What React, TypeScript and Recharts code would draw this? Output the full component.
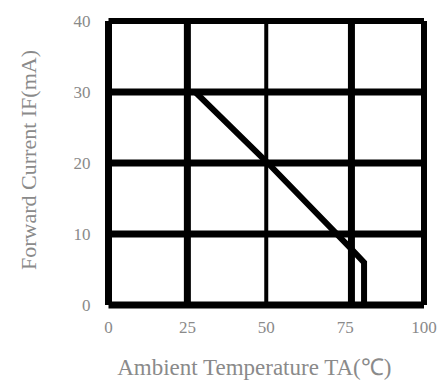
import React from 'react'
import {
  LineChart,
  Line,
  XAxis,
  YAxis,
  ReferenceLine,
} from 'recharts'

// derating curve
const tempC = [0, 27.5, 50.5, 76.7, 81, 81]
const currentMA = [30, 30, 20, 8, 6, 0]

const xTicks = [0, 25, 50, 75, 100]
const yTicks = [0, 10, 20, 30, 40]

// inner grid lines, (value, stroke width)
const vGrid = [25, 50, 77]
const vGridWidth = [7, 4, 7]
const hGrid = [10, 20, 30]
const hGridWidth = [7, 7, 7]

const FONT = '"Liberation Serif", "Times New Roman", serif'
const GREY = '#8a8a8a'

const data = tempC.map((t, i) => ({ t, i: currentMA[i] }))

const App: React.FC = () => {
  return (
    <div style={{ position: 'absolute', left: 0, top: 0, background: '#fff' }}>
      <LineChart
        width={443}
        height={383}
        data={data}
        margin={{ top: 21, right: 19, bottom: 0, left: 0 }}
      >
        <XAxis
          dataKey="t"
          type="number"
          domain={[0, 100]}
          ticks={xTicks}
          axisLine={false}
          tickLine={false}
          tickSize={0}
          tickMargin={16}
          height={78}
          tick={{ fontSize: 17, fontFamily: FONT, fill: GREY }}
          label={{
            content: ({ viewBox }: any) => (
              <text
                x={viewBox.x - 12 + viewBox.width / 2}
                y={viewBox.y + 70}
                textAnchor="middle"
                fontSize={23}
                fontFamily={FONT}
                fill={GREY}
              >
                Ambient Temperature TA(℃)
              </text>
            ),
          }}
        />
        <YAxis
          type="number"
          domain={[0, 40]}
          ticks={yTicks}
          axisLine={false}
          tickLine={false}
          tickSize={0}
          tickMargin={18}
          width={108.5}
          tick={{ fontSize: 17, fontFamily: FONT, fill: GREY }}
          label={{
            content: ({ viewBox }: any) => {
              const cx = viewBox.x + 28
              const cy = viewBox.y + viewBox.height / 2 - 3
              return (
                <text
                  x={cx}
                  y={cy}
                  transform={`rotate(-90, ${cx}, ${cy})`}
                  textAnchor="middle"
                  dominantBaseline="central"
                  fontSize={22}
                  fontFamily={FONT}
                  fill={GREY}
                >
                  Forward Current IF(mA)
                </text>
              )
            },
          }}
        />

        {vGrid.map((v, k) => (
          <ReferenceLine key={'v' + v} x={v} stroke="#000" strokeWidth={vGridWidth[k]} />
        ))}
        {hGrid.map((v, k) => (
          <ReferenceLine key={'h' + v} y={v} stroke="#000" strokeWidth={hGridWidth[k]} />
        ))}

        {/* frame */}
        <ReferenceLine x={0} stroke="#000" strokeWidth={7} />
        <ReferenceLine x={100} stroke="#000" strokeWidth={6} />
        <ReferenceLine y={0} stroke="#000" strokeWidth={7} />
        <ReferenceLine y={40} stroke="#000" strokeWidth={6} />

        <Line
          dataKey="i"
          stroke="#000"
          strokeWidth={6}
          strokeLinejoin="miter"
          dot={false}
          isAnimationActive={false}
        />
      </LineChart>
    </div>
  )
}

export default App
